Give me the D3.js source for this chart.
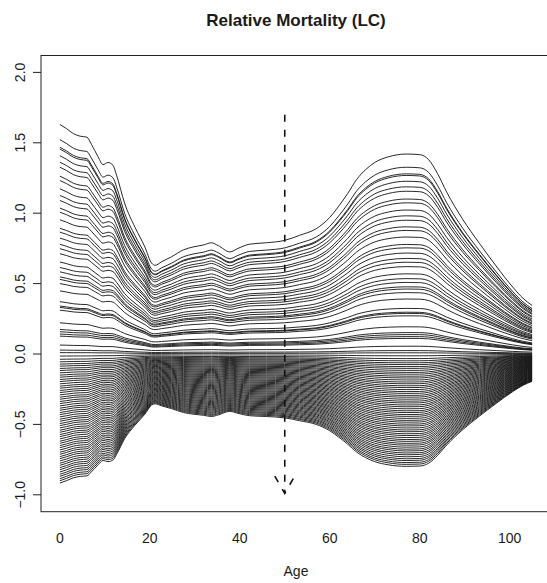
<!DOCTYPE html>
<html>
<head>
<meta charset="utf-8">
<script src="https://cdn.jsdelivr.net/npm/d3@7"></script>
<style>
  body { margin: 0; background: #fff; }
  text { font-family: "Liberation Sans", Arial, Helvetica, sans-serif; fill: #1a1a1a; }
</style>
</head>
<body>
<div id="chart"></div>
<script>
// Lee-Carter relative mortality: b_x * k_t, one line per k_t
var ages = [0, 1.5, 3, 4.5, 6, 7, 8.5, 9.6, 10.7, 11.8, 12.6, 14.4, 16.7, 18.9, 20.4,
  21.2, 22.6, 24.8, 27.5, 29.6, 32, 33.7, 35.2, 37.8, 39.6, 42.2, 45.9, 50, 53.3, 57,
  60, 62, 64, 66, 68, 70, 73, 77, 80, 82, 84, 86, 89.6, 93.3, 97, 100.7, 103, 105];
var bx = [1.63, 1.60, 1.565, 1.547, 1.54, 1.49, 1.40, 1.345, 1.36, 1.34, 1.27, 1.07, 0.90, 0.76, 0.645,
  0.63, 0.655, 0.69, 0.74, 0.76, 0.775, 0.79, 0.77, 0.725, 0.75, 0.78, 0.79, 0.807, 0.843, 0.89,
  0.97, 1.05, 1.14, 1.24, 1.31, 1.36, 1.40, 1.42, 1.416, 1.38, 1.28, 1.15, 0.955, 0.785, 0.625, 0.475, 0.395, 0.345];

// observed years (irregular)
var ktPast = [1.000, 0.934, 0.901, 0.893, 0.864, 0.836, 0.814, 0.775, 0.756, 0.720, 0.691, 0.669,
  0.636, 0.618, 0.585, 0.548, 0.531, 0.505, 0.478, 0.459, 0.437, 0.401, 0.377, 0.358, 0.336,
  0.325, 0.307, 0.275, 0.228, 0.209, 0.203, 0.191, 0.136, 0.107, 0.097, 0.087, 0.078, 0.039,
  0.017, 0.006, -0.009, -0.023];
// later years (dense)
var ktFuture = [-0.034, -0.044, -0.053, -0.063, -0.072, -0.082, -0.092, -0.101, -0.111, -0.120,
  -0.130, -0.140, -0.149, -0.159, -0.168, -0.178, -0.188, -0.197, -0.207, -0.216, -0.226, -0.236,
  -0.245, -0.255, -0.264, -0.274, -0.284, -0.293, -0.303, -0.312, -0.322, -0.332, -0.341, -0.351,
  -0.360, -0.370, -0.380, -0.389, -0.399, -0.408, -0.418, -0.428, -0.437, -0.447, -0.456, -0.466,
  -0.476, -0.485, -0.495, -0.504, -0.514, -0.524, -0.533, -0.543, -0.552, -0.562];

var xTicks = [0, 20, 40, 60, 80, 100];
var yTicks = [-1.0, -0.5, 0.0, 0.5, 1.0, 1.5, 2.0];
var arrowAge = 50, arrowFrom = 1.7, arrowTo = -0.99;

var W = 547, H = 583;
var plotL = 41, plotR = 551, plotT = 55.5, plotB = 511.7;

var x = d3.scaleLinear().domain([-4.2, 109.2]).range([plotL, plotR]);
var y = d3.scaleLinear().domain([-1.12, 2.12]).range([plotB, plotT]);

var svg = d3.select("#chart").append("svg")
    .attr("width", W)
    .attr("height", H);

var line = d3.line()
    .x(function(d) { return x(d[0]); })
    .y(function(d) { return y(d[1]); })
    .curve(d3.curveMonotoneX);

var allK = ktPast.concat(ktFuture);

svg.append("g")
    .attr("class", "lines")
    .selectAll("path")
    .data(allK)
    .enter().append("path")
    .attr("d", function(k) {
        return line(ages.map(function(a, i) { return [a, bx[i] * k]; }));
    })
    .style("fill", "none")
    .style("stroke", "#111")
    .style("stroke-width", 0.9);

// dashed arrow at age 50
var ax = x(arrowAge), ay0 = y(arrowFrom), ay1 = y(arrowTo);
svg.append("line")
    .attr("x1", ax).attr("y1", ay0)
    .attr("x2", ax).attr("y2", ay1)
    .style("stroke", "#111")
    .style("stroke-width", 1.6)
    .style("stroke-dasharray", "7,8");
var headLen = 20, ang = Math.PI / 6;
svg.append("path")
    .attr("d", "M" + (ax - headLen * Math.sin(ang)) + "," + (ay1 - headLen * Math.cos(ang)) +
        "L" + ax + "," + ay1 +
        "L" + (ax + headLen * Math.sin(ang)) + "," + (ay1 - headLen * Math.cos(ang)))
    .style("fill", "none")
    .style("stroke", "#111")
    .style("stroke-width", 1.6)
    .style("stroke-dasharray", "7,8");

// box
svg.append("rect")
    .attr("x", plotL).attr("y", plotT)
    .attr("width", plotR - plotL).attr("height", plotB - plotT)
    .style("fill", "none")
    .style("stroke", "#222")
    .style("stroke-width", 1);

// y axis
var yAxis = svg.append("g");
yAxis.selectAll("line")
    .data(yTicks)
    .enter().append("line")
    .attr("x1", plotL - 8).attr("x2", plotL)
    .attr("y1", function(d) { return y(d); })
    .attr("y2", function(d) { return y(d); })
    .style("stroke", "#222");
yAxis.selectAll("text")
    .data(yTicks)
    .enter().append("text")
    .attr("transform", function(d) { return "translate(24.5," + y(d) + ") rotate(-90)"; })
    .attr("text-anchor", "middle")
    .style("font-size", "14px")
    .text(function(d) { return d3.format(".1f")(d).replace("-", "\u2212"); });

// x axis labels
svg.append("g").selectAll("text")
    .data(xTicks)
    .enter().append("text")
    .attr("x", function(d) { return x(d); })
    .attr("y", 543)
    .attr("text-anchor", "middle")
    .style("font-size", "14px")
    .text(function(d) { return d; });

svg.append("text")
    .attr("x", (plotL + plotR) / 2)
    .attr("y", 576)
    .attr("text-anchor", "middle")
    .style("font-size", "14px")
    .text("Age");

svg.append("text")
    .attr("x", (plotL + plotR) / 2)
    .attr("y", 26)
    .attr("text-anchor", "middle")
    .style("font-size", "17px")
    .style("font-weight", "bold")
    .text("Relative Mortality (LC)");
</script>
</body>
</html>
